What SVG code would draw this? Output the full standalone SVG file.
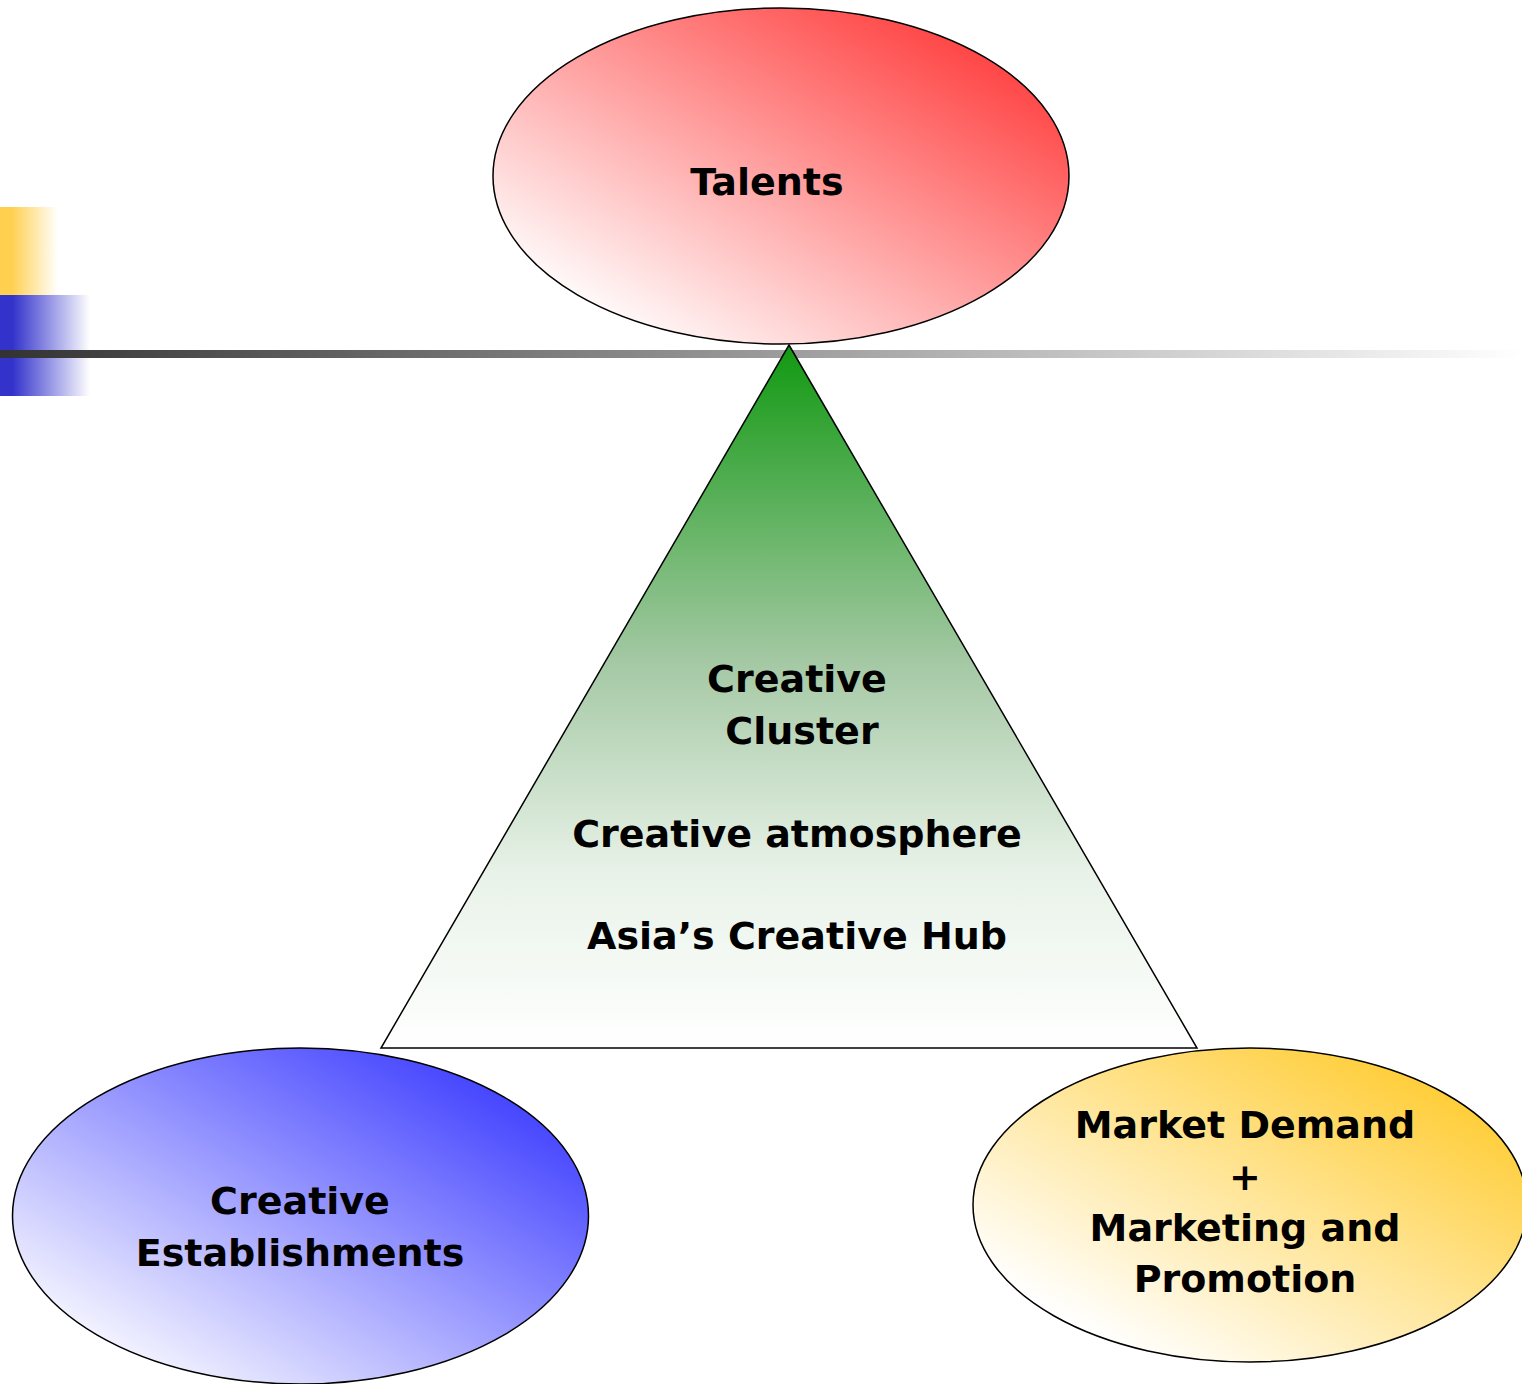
<svg xmlns="http://www.w3.org/2000/svg" width="1522" height="1384" viewBox="0 0 1522 1384">
  <style>
    .lbl { font-family: "DejaVu Sans", Verdana, sans-serif; font-weight: bold; font-size: 38px; fill: #000; text-anchor: middle; }
    .outline { stroke: #000; stroke-width: 1.5; }
  </style>
  <defs>
    <linearGradient id="gYellowBar" x1="0" y1="0" x2="1" y2="0">
      <stop offset="0" stop-color="#FFD050"/>
      <stop offset="0.2" stop-color="#FFD050"/>
      <stop offset="1" stop-color="#FFFFFF"/>
    </linearGradient>
    <linearGradient id="gBlueBar" x1="0" y1="0" x2="1" y2="0">
      <stop offset="0" stop-color="#3333CC"/>
      <stop offset="0.14" stop-color="#3333CC"/>
      <stop offset="1" stop-color="#FFFFFF"/>
    </linearGradient>
    <linearGradient id="gRule" x1="0" y1="0" x2="1" y2="0">
      <stop offset="0" stop-color="#333333"/>
      <stop offset="1" stop-color="#FFFFFF"/>
    </linearGradient>
    <linearGradient id="gRed" x1="0" y1="1" x2="1" y2="0">
      <stop offset="0.12" stop-color="#FFFFFF"/>
      <stop offset="0.88" stop-color="#FF4040"/>
    </linearGradient>
    <linearGradient id="gBlue" x1="0" y1="1" x2="1" y2="0">
      <stop offset="0.12" stop-color="#F8F8FF"/>
      <stop offset="0.88" stop-color="#4040FF"/>
    </linearGradient>
    <linearGradient id="gGold" x1="0" y1="1" x2="1" y2="0">
      <stop offset="0.15" stop-color="#FFFFFF"/>
      <stop offset="0.88" stop-color="#FFCC33"/>
    </linearGradient>
    <linearGradient id="gGreen" x1="0" y1="0" x2="0" y2="1">
      <stop offset="0" stop-color="#119911"/>
      <stop offset="0.45" stop-color="#A4C8A4"/>
      <stop offset="0.75" stop-color="#E8F2E8"/>
      <stop offset="1" stop-color="#FFFFFF"/>
    </linearGradient>
  </defs>

  <!-- slide decoration -->
  <rect x="0" y="207" width="58" height="89" fill="url(#gYellowBar)"/>
  <rect x="0" y="295" width="90" height="101" fill="url(#gBlueBar)"/>
  <rect x="0" y="350" width="1522" height="8" fill="url(#gRule)"/>

  <g id="connectors"></g>

  <g id="talents">
    <ellipse class="outline" cx="781" cy="176" rx="288" ry="168" fill="url(#gRed)"/>
    <text class="lbl" x="767" y="195">Talents</text>
  </g>

  <g id="creative-cluster">
    <polygon class="outline" points="789,345 1197,1048 381,1048" fill="url(#gGreen)"/>
    <text class="lbl" x="797" y="692">Creative</text>
    <text class="lbl" x="802" y="744">Cluster</text>
    <text class="lbl" x="797" y="847">Creative atmosphere</text>
    <text class="lbl" x="797" y="949">Asia’s Creative Hub</text>
  </g>

  <g id="creative-establishments">
    <ellipse class="outline" cx="300.5" cy="1216" rx="288" ry="168" fill="url(#gBlue)"/>
    <text class="lbl" x="300" y="1214">Creative</text>
    <text class="lbl" x="300" y="1266">Establishments</text>
  </g>

  <g id="market">
    <ellipse class="outline" cx="1250" cy="1205" rx="277" ry="157" fill="url(#gGold)"/>
    <text class="lbl" x="1245" y="1138">Market Demand</text>
    <text class="lbl" x="1245" y="1190">+</text>
    <text class="lbl" x="1245" y="1241">Marketing and</text>
    <text class="lbl" x="1245" y="1292">Promotion</text>
  </g>
</svg>
